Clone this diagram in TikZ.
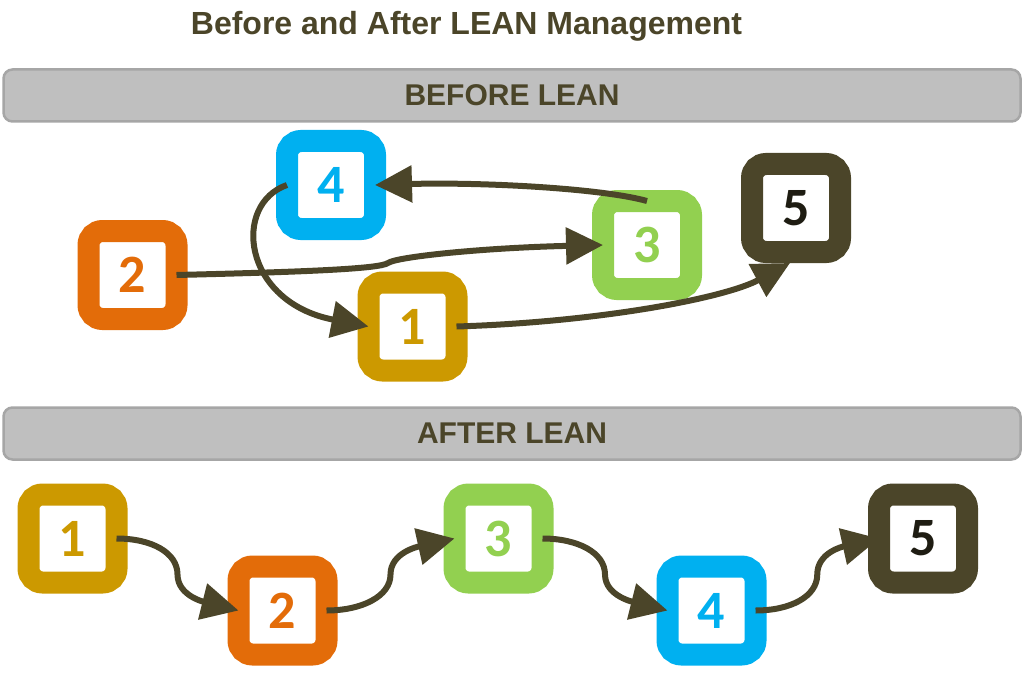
\documentclass[tikz,border=0pt]{standalone}
\usepackage{fontspec}
\setmainfont{Liberation Sans}
\newfontfamily\numfont{Carlito}
\usetikzlibrary{arrows.meta,calc}
\definecolor{leanblue}{HTML}{00B0F0}
\definecolor{leanorange}{HTML}{E36C09}
\definecolor{leangold}{HTML}{CC9900}
\definecolor{leangreen}{HTML}{92D050}
\definecolor{leandark}{HTML}{4B4529}
\definecolor{leanblack}{HTML}{1E1C12}
\definecolor{bargray}{HTML}{BFBFBF}
\definecolor{barline}{HTML}{A6A6A6}
\tikzset{
  stepbox/.style={draw=#1,line width=22pt,fill=white,minimum size=88pt,inner sep=0pt,outer sep=0pt,
    rounded corners=14pt,text=#1,font=\numfont\bfseries\fontsize{54}{54}\selectfont},
  bar/.style={draw=barline,fill=bargray,line width=2.5pt,rounded corners=9pt,inner sep=0pt,outer sep=0pt,
    minimum width=1017pt,minimum height=52pt,text=leandark,font=\bfseries\fontsize{30}{30}\selectfont},
  ttl/.style={text=leandark,font=\bfseries\fontsize{32}{32}\selectfont,anchor=base},
  flow/.style={draw=leandark,line width=6pt,-{Triangle[length=37pt,width=36pt]}},
}

\begin{document}
\begin{tikzpicture}[x=1pt,y=-1pt]
\useasboundingbox (0,0) rectangle (1024,679);
% title
\node[ttl] (title) at (466.5,35) {Before and After LEAN Management};
% before lean
\node[bar] (before) at (512,95.5) {BEFORE LEAN};
\node[stepbox=leanblue]   (b4) at (331,185) {4};
\node[stepbox=leanorange] (b2) at (132.5,275) {2};
\node[stepbox=leangold]   (b1) at (412.5,326.5) {1};
\node[stepbox=leangreen]  (b3) at (647,245) {3};
\node[stepbox=leandark,text=leanblack] (b5) at (796,208) {5};
\draw[flow] (b2.east) .. controls (300,272) and (380,269) .. (388,263)
  .. controls (396,257) and (480,248) .. (b3.west);
\draw[flow] (b3.north) .. controls (600,188) and (480,182) .. (b4.east);
\draw[flow] (b4.west) .. controls (232,204) and (242,302) .. (b1.west);
\draw[flow] (b1.east) .. controls (600,322) and (725,298) .. ([shift={(-6,11)}]b5.south);
% after lean
\node[bar] (after) at (512,433.5) {AFTER LEAN};
\foreach \n/\x/\y/\c in {1/72.5/538.5/leangold,2/282.5/610.5/leanorange,3/498.5/538.5/leangreen,4/711.5/610.5/leanblue}
  \node[stepbox=\c] (a\n) at (\x,\y) {\n};
\node[stepbox=leandark,text=leanblack] (a5) at (923,538.5) {5};
\foreach \i/\j in {1/2,3/4}
  \draw[flow] (a\i.east) .. controls +(35,0) and +(0,-22) .. ($(a\i.east)!.5!(a\j.west)$)
    .. controls +(0,22) and +(-32,-8) .. (a\j.west);
\foreach \i/\j in {2/3,4/5}
  \draw[flow] (a\i.east) .. controls +(35,0) and +(0,22) .. ($(a\i.east)!.5!(a\j.west)$)
    .. controls +(0,-22) and +(-36,8) .. (a\j.west);
\end{tikzpicture}
\end{document}
